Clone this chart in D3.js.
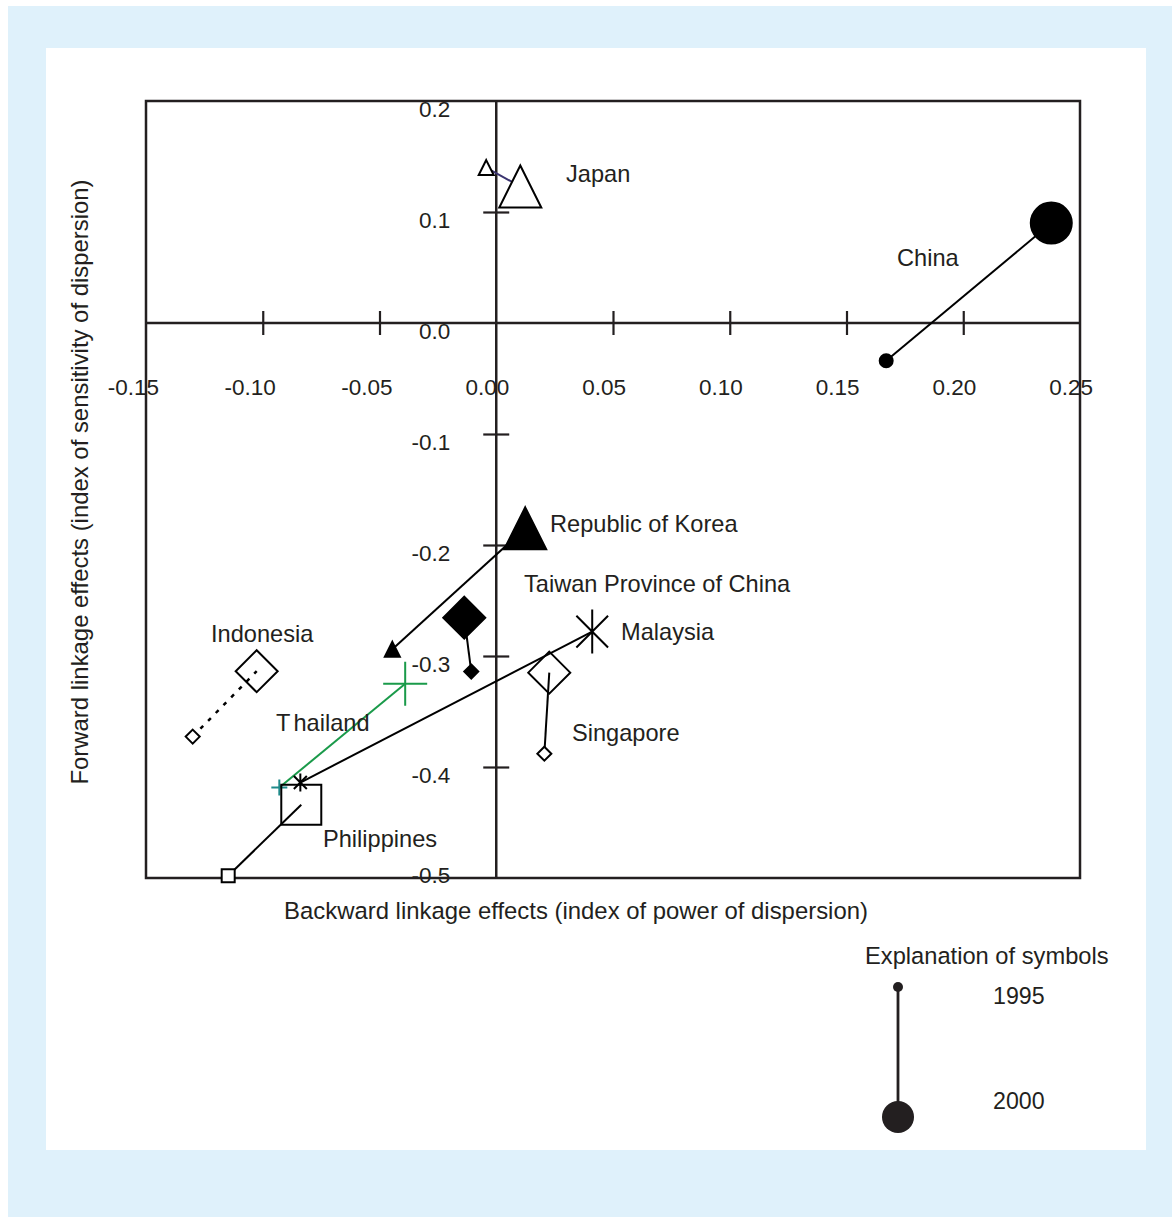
<!DOCTYPE html>
<html>
<head>
<meta charset="utf-8">
<script src="https://cdn.jsdelivr.net/npm/d3@7"></script>
<style>
  html, body { margin: 0; padding: 0; background: #ffffff; }
  svg { display: block; }
  text { font-family: "Liberation Sans", Arial, Helvetica, sans-serif; fill: #231f20; }
</style>
</head>
<body>
<svg id="chart" width="1172" height="1217"></svg>
<script>
// Linkage effects of Asian economies, 1995 -> 2000
const countries = ["Japan", "China", "Republic of Korea", "Taiwan Province of China",
                   "Malaysia", "Singapore", "Indonesia", "Thailand", "Philippines"];
const backward1995 = [-0.0043, 0.167, -0.0445, -0.0107, -0.0839, 0.0206, -0.130, -0.0929, -0.1148];
const forward1995  = [ 0.140, -0.034, -0.294, -0.314, -0.414, -0.388, -0.3726, -0.4185, -0.498];
const backward2000 = [ 0.0103, 0.2377, 0.0124, -0.0137, 0.0411, 0.0227, -0.1026, -0.039, -0.0835];
const forward2000  = [ 0.123, 0.090, -0.185, -0.2655, -0.278, -0.315, -0.3137, -0.325, -0.434];

const xTicks = [-0.15, -0.10, -0.05, 0.00, 0.05, 0.10, 0.15, 0.20, 0.25];
const yTicks = [0.2, 0.1, 0.0, -0.1, -0.2, -0.3, -0.4, -0.5];
const xTickLabels = ["-0.15", "-0.10", "-0.05", "0.00", "0.05", "0.10", "0.15", "0.20", "0.25"];
const yTickLabels = ["0.2", "0.1", "0.0", "-0.1", "-0.2", "-0.3", "-0.4", "-0.5"];
const legendYears = ["1995", "2000"];

// marker look per country
const style = {
  "Japan":                    { shape: "triangle", fill: "#ffffff", line: "#3b3470", dash: null },
  "China":                    { shape: "circle",   fill: "#000000", line: "#000000", dash: null },
  "Republic of Korea":        { shape: "triangle", fill: "#000000", line: "#000000", dash: null },
  "Taiwan Province of China": { shape: "diamond",  fill: "#000000", line: "#000000", dash: null },
  "Malaysia":                 { shape: "asterisk", fill: "none",    line: "#000000", dash: null },
  "Singapore":                { shape: "diamond",  fill: "none",    line: "#000000", dash: null },
  "Indonesia":                { shape: "diamond",  fill: "none",    line: "#000000", dash: "4,7" },
  "Thailand":                 { shape: "cross",    fill: "none",    line: "#1a9a4a", dash: null, small: "#1f8a8a" },
  "Philippines":              { shape: "square",   fill: "none",    line: "#000000", dash: null }
};
// label anchor (left, baseline) in pixels
const labelPos = {
  "Japan": [566, 182], "China": [897, 266], "Republic of Korea": [550, 532],
  "Taiwan Province of China": [524, 592], "Malaysia": [621, 640], "Indonesia": [211, 642],
  "Thailand": [276, 731], "Singapore": [572, 741], "Philippines": [323, 847]
};

const svg = d3.select("#chart");

// page background and white panel
svg.append("rect").attr("x", 8).attr("y", 6).attr("width", 1164).attr("height", 1211).attr("fill", "#dff1fb");
svg.append("rect").attr("x", 46).attr("y", 48).attr("width", 1100).attr("height", 1102).attr("fill", "#ffffff");

const x = d3.scaleLinear().domain([-0.15, 0.25]).range([146, 1080]);
const y = d3.scaleLinear().domain([-0.5, 0.2]).range([878, 101]);

const ink = "#231f20";

// frame
svg.append("rect")
  .attr("x", x(-0.15)).attr("y", y(0.2))
  .attr("width", x(0.25) - x(-0.15)).attr("height", y(-0.5) - y(0.2))
  .attr("fill", "none").attr("stroke", ink).attr("stroke-width", 2.5);

// axes through the origin
const xAxis = d3.axisBottom(x).tickValues(xTicks.filter(v => v > -0.15 && v < 0.25 && v !== 0))
  .tickSizeInner(24).tickSizeOuter(0).tickFormat("");
const gx = svg.append("g").attr("transform", `translate(0,${y(0)})`).call(xAxis);
gx.select(".domain").remove();
gx.selectAll(".tick line").attr("y1", -12).attr("y2", 12).attr("stroke", ink).attr("stroke-width", 2.2);
svg.append("line").attr("x1", x(-0.15)).attr("x2", x(0.25)).attr("y1", y(0)).attr("y2", y(0))
  .attr("stroke", ink).attr("stroke-width", 2.5);

const yAxis = d3.axisLeft(y).tickValues(yTicks.filter(v => v < 0.2 && v > -0.5 && v !== 0))
  .tickSizeInner(26).tickSizeOuter(0).tickFormat("");
const gy = svg.append("g").attr("transform", `translate(${x(0)},0)`).call(yAxis);
gy.select(".domain").remove();
gy.selectAll(".tick line").attr("x1", -13).attr("x2", 13).attr("stroke", ink).attr("stroke-width", 2.2);
svg.append("line").attr("x1", x(0)).attr("x2", x(0)).attr("y1", y(0.2)).attr("y2", y(-0.5))
  .attr("stroke", ink).attr("stroke-width", 2.5);

// tick labels
svg.append("g").selectAll("text").data(xTicks).join("text")
  .attr("x", d => x(d) + 13).attr("y", y(0) + 72)
  .attr("text-anchor", "end").attr("font-size", 22.5)
  .text((d, i) => xTickLabels[i]);
svg.append("g").selectAll("text").data(yTicks).join("text")
  .attr("x", x(0) - 46).attr("y", d => y(d) + (d === -0.5 ? 5 : 16))
  .attr("text-anchor", "end").attr("font-size", 22.5)
  .text((d, i) => yTickLabels[i]);

// axis titles
svg.append("text").attr("x", 576).attr("y", 919).attr("text-anchor", "middle").attr("font-size", 23.9)
  .text("Backward linkage effects (index of power of dispersion)");
svg.append("text").attr("transform", "translate(88,482) rotate(-90)").attr("text-anchor", "middle")
  .attr("font-size", 23.9)
  .text("Forward linkage effects (index of sensitivity of dispersion)");

// marker path generator, size = half-extent in px
function markerPath(shape, s) {
  const p = d3.path();
  if (shape === "triangle") {
    p.moveTo(0, -s); p.lineTo(s, s); p.lineTo(-s, s); p.closePath();
  } else if (shape === "diamond") {
    p.moveTo(0, -s); p.lineTo(s, 0); p.lineTo(0, s); p.lineTo(-s, 0); p.closePath();
  } else if (shape === "square") {
    p.rect(-s, -s, 2 * s, 2 * s);
  } else if (shape === "circle") {
    p.arc(0, 0, s, 0, 2 * Math.PI);
  } else if (shape === "cross") {
    p.moveTo(-s, 0); p.lineTo(s, 0); p.moveTo(0, -s); p.lineTo(0, s);
  } else if (shape === "asterisk") {
    const d = s * 0.72;
    p.moveTo(0, -s); p.lineTo(0, s);
    p.moveTo(-d, -d); p.lineTo(d, d);
    p.moveTo(-d, d); p.lineTo(d, -d);
  }
  return p.toString();
}
const smallSize = { triangle: 7.5, diamond: 7, square: 6.5, circle: 6.5, cross: 8, asterisk: 9 };
const bigSize   = { triangle: 21, diamond: 21, square: 20, circle: 20.5, cross: 22, asterisk: 22 };

const data = countries.map((c, i) => ({
  name: c, x0: backward1995[i], y0: forward1995[i], x1: backward2000[i], y1: forward2000[i]
}));

// connecting lines 1995 -> 2000
svg.append("g").selectAll("line").data(data).join("line")
  .attr("x1", d => x(d.x0)).attr("y1", d => y(d.y0))
  .attr("x2", d => x(d.x1)).attr("y2", d => y(d.y1))
  .attr("stroke", d => style[d.name].line)
  .attr("stroke-width", d => style[d.name].dash ? 2.5 : 2)
  .attr("stroke-dasharray", d => style[d.name].dash);

// 1995 markers (small)
svg.append("g").selectAll("path").data(data).join("path")
  .attr("transform", d => `translate(${x(d.x0)},${y(d.y0)})`)
  .attr("d", d => markerPath(style[d.name].shape, smallSize[style[d.name].shape]))
  .attr("fill", d => style[d.name].fill === "none" ? "#ffffff" : style[d.name].fill)
  .attr("stroke", d => style[d.name].small || "#000000")
  .attr("stroke-width", 2);

// 2000 markers (large)
svg.append("g").selectAll("path").data(data).join("path")
  .attr("transform", d => `translate(${x(d.x1)},${y(d.y1)})`)
  .attr("d", d => markerPath(style[d.name].shape, bigSize[style[d.name].shape]))
  .attr("fill", d => style[d.name].fill)
  .attr("stroke", d => style[d.name].shape === "cross" ? style[d.name].line : "#000000")
  .attr("stroke-width", 2);

// country labels ("Thailand" is set with a wide gap after its initial)
const labels = svg.append("g").selectAll("text").data(data).join("text")
  .attr("x", d => labelPos[d.name][0]).attr("y", d => labelPos[d.name][1])
  .attr("font-size", 23.6);
labels.each(function (d) {
  const t = d3.select(this);
  if (d.name === "Thailand") {
    t.append("tspan").text("T");
    t.append("tspan").attr("dx", 3).text("hailand");
  } else {
    t.text(d.name);
  }
});

// explanation of symbols
svg.append("text").attr("x", 865).attr("y", 964).attr("font-size", 23.7).text("Explanation of symbols");
svg.append("line").attr("x1", 898).attr("x2", 898).attr("y1", 987).attr("y2", 1110)
  .attr("stroke", ink).attr("stroke-width", 2.8);
svg.append("circle").attr("cx", 898).attr("cy", 987).attr("r", 5).attr("fill", ink);
svg.append("circle").attr("cx", 898).attr("cy", 1117).attr("r", 16).attr("fill", ink);
svg.append("g").selectAll("text").data(legendYears).join("text")
  .attr("x", 993).attr("y", (d, i) => i === 0 ? 1004 : 1109).attr("font-size", 23.2)
  .text(d => d);
</script>
</body>
</html>
